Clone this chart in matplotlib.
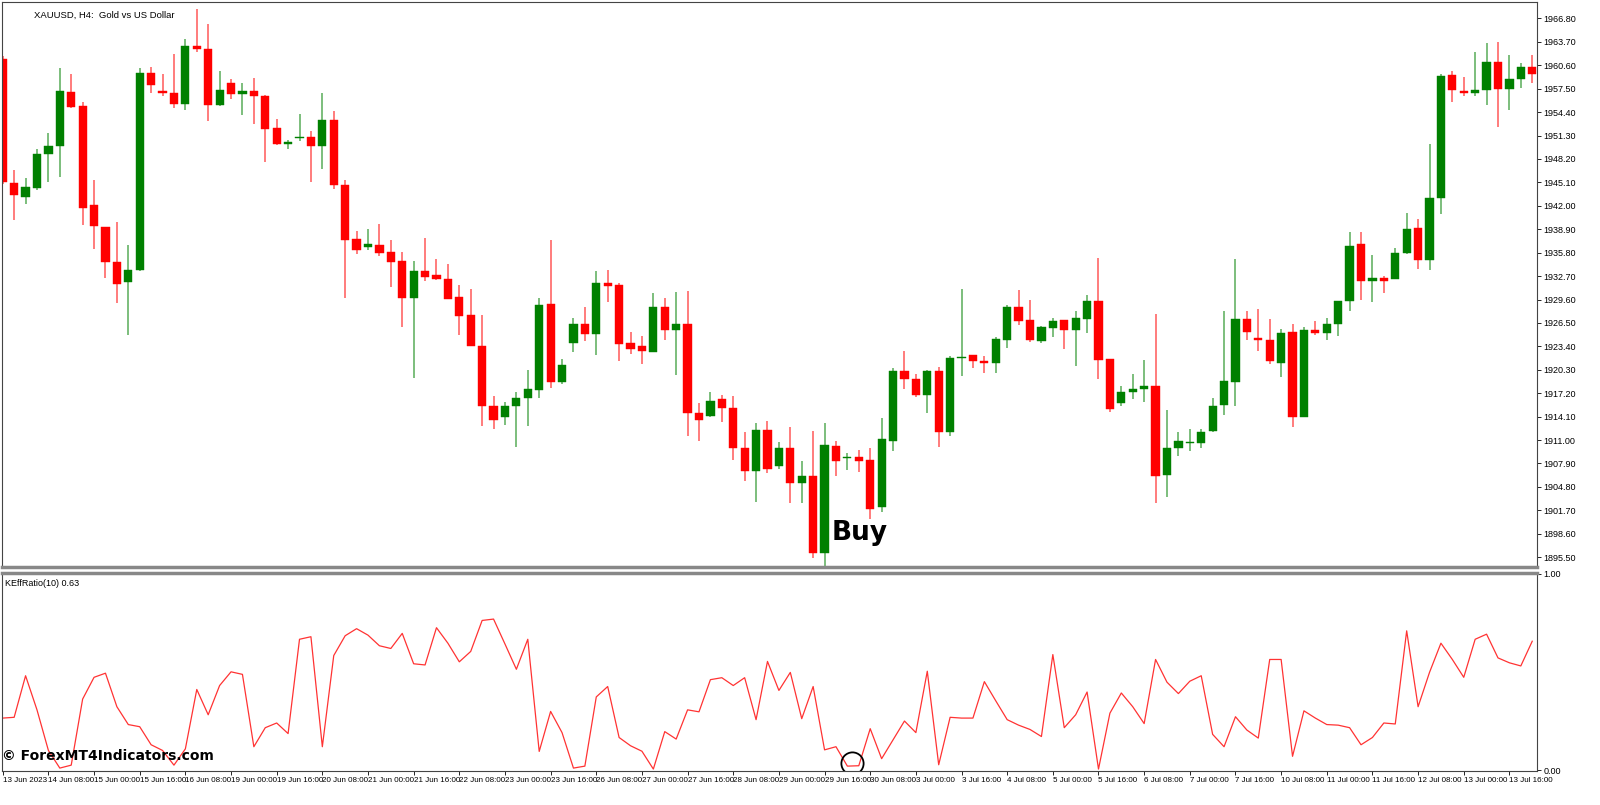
import matplotlib
matplotlib.use("Agg")
import matplotlib.pyplot as plt
import numpy as np

opens = [1961.5,1945.05,1943.2,1944.4,1948.9,1949.9,1957.1,1955.2,1942.1,1939.2,
 1934.5,1931.9,1933.5,1959.6,1957.2,1956.9,1955.5,1963.2,1962.7,1955.3,
 1958.2,1956.8,1957.2,1956.5,1952.3,1950.2,1951.0,1951.1,1949.9,1953.4,
 1944.8,1937.6,1936.5,1936.8,1935.9,1934.7,1929.8,1933.4,1932.8,1932.3,
 1929.9,1927.5,1923.5,1915.5,1914.1,1915.5,1916.5,1917.6,1929.0,1918.7,
 1923.8,1926.4,1925.1,1931.8,1931.5,1923.8,1923.4,1922.7,1928.6,1925.6,
 1926.3,1914.6,1914.2,1916.4,1915.3,1910.0,1906.9,1912.3,1907.5,1910.0,
 1905.3,1906.2,1896.1,1910.2,1908.6,1908.8,1908.3,1902.2,1910.9,1920.1,
 1919.1,1917.0,1920.1,1912.0,1921.9,1922.2,1921.4,1921.2,1924.2,1928.6,
 1926.9,1924.1,1925.8,1926.9,1925.6,1927.0,1929.4,1921.7,1915.9,1917.4,
 1917.8,1918.1,1906.4,1909.9,1910.6,1910.6,1912.2,1915.6,1918.7,1927.0,
 1924.5,1924.3,1921.2,1925.3,1914.0,1925.6,1925.2,1926.4,1929.4,1936.9,
 1932.0,1932.4,1932.3,1935.7,1939.0,1934.8,1943.1,1959.3,1957.2,1957.0,
 1957.3,1961.0,1957.5,1958.8,1960.4]
highs = [1961.8,1946.8,1945.7,1949.5,1951.6,1960.3,1959.4,1955.8,1945.4,1939.2,
 1939.9,1936.8,1960.3,1960.4,1959.5,1962.1,1964.1,1968.0,1966.1,1959.9,
 1958.8,1958.3,1958.9,1956.7,1953.5,1950.7,1954.2,1951.9,1956.9,1954.6,
 1945.4,1938.7,1938.9,1939.6,1937.5,1935.85,1934.7,1937.7,1935.0,1934.3,
 1931.5,1931.0,1927.5,1916.8,1916.1,1917.4,1920.3,1929.8,1937.5,1921.7,
 1927.1,1928.6,1933.4,1933.5,1931.8,1925.3,1924.8,1930.5,1929.8,1930.6,
 1930.7,1915.9,1917.4,1917.0,1916.8,1912.05,1913.2,1913.5,1910.8,1912.7,
 1908.2,1912.2,1913.2,1910.9,1909.3,1909.7,1910.0,1913.9,1920.6,1922.8,
 1919.7,1920.3,1920.7,1922.1,1931.0,1922.2,1922.1,1924.6,1928.9,1930.9,
 1929.6,1926.1,1927.2,1926.9,1928.1,1930.2,1935.1,1921.7,1918.1,1919.7,
 1921.6,1927.7,1915.0,1912.0,1912.5,1912.4,1916.5,1928.1,1934.9,1928.1,
 1928.3,1927.0,1925.7,1926.3,1925.9,1926.8,1927.2,1929.4,1938.5,1938.5,
 1935.5,1932.7,1936.4,1941.1,1940.3,1950.2,1959.5,1959.8,1959.0,1962.4,
 1963.5,1963.7,1962.0,1960.9,1962.0]
lows = [1944.9,1940.1,1942.2,1944.1,1945.2,1945.8,1954.9,1939.5,1936.3,1932.4,
 1929.1,1924.9,1933.4,1956.9,1956.6,1954.9,1954.7,1962.4,1953.2,1955.2,
 1956.2,1954.0,1952.8,1947.8,1950.0,1949.5,1950.6,1945.2,1946.9,1944.2,
 1929.8,1935.6,1936.1,1935.4,1931.2,1925.9,1919.2,1932.0,1932.2,1929.7,
 1924.9,1923.4,1912.8,1912.4,1913.0,1910.1,1912.9,1916.6,1917.9,1918.4,
 1922.7,1924.1,1922.2,1929.3,1921.5,1922.4,1921.0,1922.7,1924.2,1919.6,
 1911.6,1910.9,1914.1,1913.4,1908.3,1905.6,1902.8,1906.7,1907.2,1902.7,
 1902.6,1895.4,1893.8,1906.3,1907.0,1906.8,1900.5,1901.5,1909.6,1917.8,
 1916.7,1914.6,1910.1,1911.6,1919.5,1920.6,1919.9,1919.9,1923.2,1926.2,
 1924.0,1923.9,1924.6,1923.1,1920.8,1925.2,1919.1,1914.7,1915.5,1916.4,
 1916.1,1902.6,1903.5,1908.9,1909.6,1909.9,1912.0,1914.3,1915.5,1924.3,
 1922.8,1921.0,1919.4,1912.7,1914.0,1924.9,1924.3,1924.8,1928.1,1929.5,
 1929.3,1930.5,1932.3,1935.6,1933.7,1933.5,1940.9,1955.8,1956.6,1956.5,
 1955.3,1952.4,1954.7,1957.6,1958.3]
closes = [1945.1,1943.4,1944.5,1948.9,1949.9,1957.2,1955.1,1941.7,1939.3,1934.6,
 1931.7,1933.5,1959.55,1958.0,1956.9,1955.5,1963.2,1962.7,1955.3,1957.3,
 1956.8,1957.2,1956.5,1952.2,1950.2,1950.5,1951.1,1949.9,1953.3,1944.8,
 1937.5,1936.2,1936.9,1935.8,1934.6,1929.8,1933.4,1932.6,1932.3,1929.7,
 1927.4,1923.4,1915.5,1913.7,1915.5,1916.5,1917.7,1928.9,1918.7,1920.9,
 1926.4,1925.1,1931.8,1931.4,1923.7,1923.1,1922.8,1928.6,1925.6,1926.3,
 1914.6,1913.6,1916.2,1915.2,1909.9,1906.9,1912.3,1907.2,1910.0,1905.3,
 1906.2,1896.1,1910.4,1908.2,1908.7,1908.2,1901.9,1911.1,1920.1,1919.1,
 1917.0,1920.1,1912.0,1921.9,1921.95,1921.4,1921.2,1924.4,1928.6,1926.8,
 1924.2,1925.9,1926.8,1925.6,1927.1,1929.4,1921.6,1915.1,1917.4,1917.8,
 1918.2,1906.3,1909.9,1910.9,1910.7,1912.1,1915.5,1918.8,1927.0,1925.3,
 1924.3,1921.4,1925.2,1914.0,1925.6,1925.2,1926.4,1929.4,1936.7,1932.0,
 1932.4,1932.0,1935.8,1938.9,1934.8,1943.1,1959.2,1957.3,1957.0,1957.3,
 1961.0,1957.5,1958.8,1960.4,1959.4]

ker = [0.265,0.269,0.481,0.307,0.10,0.01,0.025,0.362,0.473,0.494,
 0.323,0.232,0.221,0.129,0.10,0.025,0.108,0.411,0.282,0.431,
 0.501,0.488,0.119,0.216,0.24,0.186,0.667,0.68,0.119,0.584,
 0.685,0.721,0.688,0.634,0.62,0.697,0.542,0.536,0.726,0.647,
 0.552,0.605,0.763,0.77,0.643,0.514,0.667,0.095,0.299,0.191,
 0.01,0.02,0.373,0.426,0.166,0.124,0.096,0.005,0.196,0.158,
 0.307,0.297,0.461,0.471,0.431,0.471,0.257,0.554,0.406,
 0.498,0.262,0.426,0.103,0.119,0.02,0.022,0.211,0.058,0.154,
 0.25,0.191,0.504,0.027,0.269,0.265,0.265,0.451,0.353,0.257,
 0.229,0.207,0.171,0.589,0.216,0.282,0.398,0.005,0.29,0.393,
 0.323,0.237,0.564,0.448,0.39,0.453,0.481,0.182,0.119,0.272,
 0.204,0.163,0.564,0.564,0.07,0.302,0.265,0.232,0.229,0.216,
 0.129,0.166,0.24,0.235,0.71,0.323,0.498,0.647,0.564,0.473,
 0.667,0.693,0.572,0.547,0.531,0.657]

xlabels = ["13 Jun 2023","14 Jun 08:00","15 Jun 00:00","15 Jun 16:00","16 Jun 08:00",
 "19 Jun 00:00","19 Jun 16:00","20 Jun 08:00","21 Jun 00:00","21 Jun 16:00",
 "22 Jun 08:00","23 Jun 00:00","23 Jun 16:00","26 Jun 08:00","27 Jun 00:00",
 "27 Jun 16:00","28 Jun 08:00","29 Jun 00:00","29 Jun 16:00","30 Jun 08:00",
 "3 Jul 00:00","3 Jul 16:00","4 Jul 08:00","5 Jul 00:00","5 Jul 16:00",
 "6 Jul 08:00","7 Jul 00:00","7 Jul 16:00","10 Jul 08:00","11 Jul 00:00",
 "11 Jul 16:00","12 Jul 08:00","13 Jul 00:00","13 Jul 16:00"]
price_ticks = [1966.80,1963.70,1960.60,1957.50,1954.40,1951.30,1948.20,1945.10,1942.00,
 1938.90,1935.80,1932.70,1929.60,1926.50,1923.40,1920.30,1917.20,1914.10,1911.00,
 1907.90,1904.80,1901.70,1898.60,1895.50]

plt.rcParams['font.family'] = ['Liberation Sans Narrow', 'Liberation Sans', 'DejaVu Sans']

o = np.array(opens); h = np.array(highs); l = np.array(lows); c = np.array(closes)
n = len(o)
x = np.arange(n)
up = c >= o
cols = np.where(up, "#008000", "#ff0000")
wcols = np.where(up, "#66b366", "#ff6666")

fig = plt.figure(figsize=(16, 8.05), dpi=100)
fig.patch.set_facecolor("white")
ax = fig.add_axes([0.001, 0.2957, 0.9595, 0.702])
ax2 = fig.add_axes([0.001, 0.0422, 0.9595, 0.246])

ax.vlines(x, l, h, colors=wcols, linewidth=1.2, zorder=1)
body_b = np.minimum(o, c); body_h = np.maximum(np.abs(c - o), 0.12)
ax.bar(x, body_h, bottom=body_b, width=0.72, color=cols, edgecolor=cols, linewidth=0.3, zorder=2)
ax.set_xlim(-0.1, 134.4)
ax.set_ylim(1894.2, 1969.0)
ax.yaxis.tick_right()
ax.set_yticks(price_ticks)
ax.set_yticklabels([f"{t:.2f}" for t in price_ticks], fontsize=6.5)
ax.tick_params(axis="y", length=3, width=0.6, pad=2)
ax.set_xticks([])
for s in ax.spines.values():
    s.set_color("#444444"); s.set_linewidth(0.8)
ax.spines["bottom"].set_color("#888888"); ax.spines["bottom"].set_linewidth(2.5)
ax.text(0.021, 0.985, "XAUUSD, H4:  Gold vs US Dollar", transform=ax.transAxes,
        fontsize=6.8, va="top", ha="left")
ax.text(72.6, 1898.7, "Buy", fontsize=19, fontweight="bold", va="center", ha="left",
        family="DejaVu Sans")

ax2.plot(x, ker, color="#ff3333", linewidth=0.9)
ax2.set_xlim(-0.1, 134.4)
ax2.set_ylim(-0.005, 1.005)
ax2.yaxis.tick_right()
ax2.set_yticks([0.0, 1.0])
ax2.set_yticklabels(["0.00", "1.00"], fontsize=6.5)
ax2.tick_params(axis="y", length=3, width=0.6, pad=2)
ax2.set_xticks(np.arange(len(xlabels)) * 4)
ax2.set_xticklabels(xlabels, fontsize=5.8, ha="left")
ax2.tick_params(axis="x", length=3, width=0.6, pad=1)
for s in ax2.spines.values():
    s.set_color("#444444"); s.set_linewidth(0.8)
ax2.spines["top"].set_color("#888888"); ax2.spines["top"].set_linewidth(2.5)
ax2.text(0.002, 0.97, "KEffRatio(10) 0.63", transform=ax2.transAxes, fontsize=6.5, va="top")
ax2.plot([74.4], [0.035], marker="o", markersize=16, markerfacecolor="none",
         markeredgecolor="black", markeredgewidth=1.3)
ax2.text(0.0, 0.04, "© ForexMT4Indicators.com", transform=ax2.transAxes,
         fontsize=10, fontweight="bold", va="bottom", ha="left", family="DejaVu Sans")

fig.savefig("out.png", dpi=100, facecolor="white")
